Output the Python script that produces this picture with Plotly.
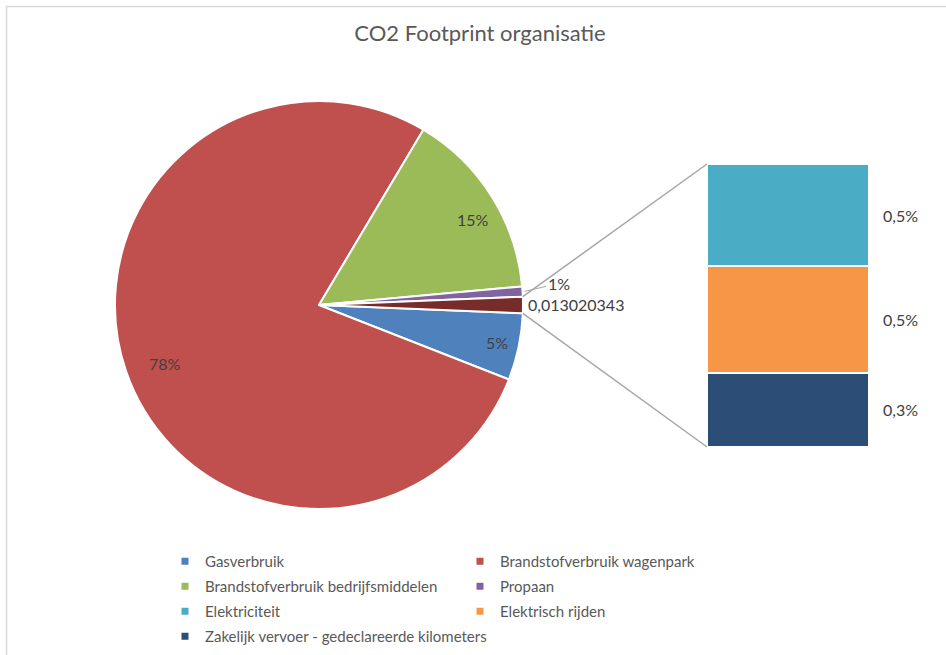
import math
import plotly.graph_objects as go

# ---------------- data ----------------
pie_labels = ["Gasverbruik", "Brandstofverbruik wagenpark",
              "Brandstofverbruik bedrijfsmiddelen", "Propaan", "Overig"]
pie_values = [0.053, 0.776, 0.150, 0.008, 0.013020343]
pie_colors = ["#4F81BD", "#C0504D", "#9BBB59", "#8064A2", "#772C2A"]

bar_labels = ["Elektriciteit", "Elektrisch rijden",
              "Zakelijk vervoer - gedeclareerde kilometers"]
bar_values = [0.0047, 0.0049, 0.00342]
bar_colors = ["#4BACC6", "#F79646", "#2C4D75"]

legend_left = ["Gasverbruik", "Brandstofverbruik bedrijfsmiddelen", "Elektriciteit",
               "Zakelijk vervoer - gedeclareerde kilometers"]
legend_right = ["Brandstofverbruik wagenpark", "Propaan", "Elektrisch rijden"]

title_text = "CO2 Footprint organisatie"

# ---------------- layout constants (pixels) ----------------
W, H = 946, 655
CX, CY, R = 319, 305, 204
BX0, BX1, BY0, BY1 = 707, 869, 164, 447
FONT = "Lato, 'Open Sans', sans-serif"
GRAY = "#595959"
LBL = "#404040"


def px(x):
    return x / W


def py(y):
    return 1 - y / H


def nl(v):
    return str(v).replace(".", ",")


total = sum(pie_values)
overig_deg = 360 * pie_values[-1] / total
start_math = -overig_deg / 2  # gas slice starts just below 3 o'clock, clockwise

# slice angles (math degrees, clockwise)
mids, starts, ends = [], [], []
a = start_math
for v in pie_values:
    span = 360 * v / total
    starts.append(a)
    ends.append(a - span)
    mids.append(a - span / 2)
    a -= span


def pt(angle, rad):
    t = math.radians(angle)
    return CX + rad * math.cos(t), CY - rad * math.sin(t)


fig = go.Figure()

fig.add_trace(go.Pie(
    labels=pie_labels, values=pie_values, sort=False,
    direction="clockwise", rotation=90 + overig_deg / 2,
    marker=dict(colors=pie_colors, line=dict(color="white", width=2)),
    textinfo="none", hoverinfo="label+percent", showlegend=False,
    domain=dict(x=[px(CX - R), px(CX + R)], y=[py(CY + R), py(CY - R)]),
))

# stacked bar (bottom first)
cum = 0
bar_mids = []
stack = list(zip(bar_labels, bar_values, bar_colors))[::-1]
for lab, v, c in stack:
    fig.add_trace(go.Bar(
        x=[0], y=[v], width=[1], name=lab, marker=dict(color=c, line=dict(color="white", width=2)),
        showlegend=False, xaxis="x", yaxis="y", hoverinfo="name+y",
    ))
    bar_mids.append((lab, cum + v / 2, v))
    cum += v

# legend entries
color_of = dict(zip(pie_labels + bar_labels, pie_colors + bar_colors))
for i, name in enumerate(legend_left):
    fig.add_trace(go.Scatter(x=[None], y=[None], mode="markers", name=name,
                             marker=dict(symbol="square", size=7, color=color_of[name]),
                             legend="legend", legendgroup="l%d" % i, showlegend=True))
for i, name in enumerate(legend_right):
    fig.add_trace(go.Scatter(x=[None], y=[None], mode="markers", name=name,
                             marker=dict(symbol="square", size=7, color=color_of[name]),
                             legend="legend2", legendgroup="r%d" % i, showlegend=True))

annotations = []
# inside labels for the three big slices
for i in range(3):
    x, y = pt(mids[i], R * 0.89)
    annotations.append(dict(x=px(x), y=py(y), xref="paper", yref="paper",
                            text="%d%%" % round(pie_values[i] / total * 100),
                            showarrow=False, font=dict(family=FONT, size=16, color=LBL)))
# propaan with leader line
ex, ey = pt(mids[3], R + 2)
annotations.append(dict(x=px(ex), y=py(ey), xref="paper", yref="paper",
                        text="%d%%" % round(pie_values[3] / total * 100),
                        showarrow=True, arrowhead=0, arrowwidth=1, arrowcolor="#A6A6A6",
                        ax=34, ay=-8, font=dict(family=FONT, size=16, color=LBL)))
# overig value label
ox, oy = pt(mids[4], R + 3)
annotations.append(dict(x=px(ox), y=py(oy), xref="paper", yref="paper", xanchor="left",
                        text=nl(pie_values[4]), showarrow=False,
                        font=dict(family=FONT, size=16, color=LBL)))
# bar labels
for lab, m, v in bar_mids:
    annotations.append(dict(x=0.5, y=m, xref="x", yref="y", xanchor="left", xshift=12,
                            text=nl(round(v / total * 100, 1)) + "%", showarrow=False,
                            font=dict(family=FONT, size=16, color=LBL)))

shapes = []
# connector lines from overig slice edges to bar corners
tx, ty = pt(starts[4], R)
bx, by = pt(ends[4], R)
shapes.append(dict(type="line", xref="paper", yref="paper", x0=px(tx), y0=py(ty),
                   x1=px(BX0), y1=py(BY0), line=dict(color="#A6A6A6", width=1.5)))
shapes.append(dict(type="line", xref="paper", yref="paper", x0=px(bx), y0=py(by),
                   x1=px(BX0), y1=py(BY1), line=dict(color="#A6A6A6", width=1.5)))
# chart border (cropped at right/bottom)
shapes.append(dict(type="rect", xref="paper", yref="paper", x0=px(6.5), y0=-0.1,
                   x1=1.1, y1=py(6.5), line=dict(color="#D9D9D9", width=1.5), layer="below"))

legend_style = dict(font=dict(family=FONT, size=15, color=GRAY), bgcolor="rgba(0,0,0,0)",
                    xanchor="left", yanchor="top", tracegroupgap=2.5, orientation="v",
                    itemclick=False, itemdoubleclick=False)

fig.update_layout(
    width=W, height=H, margin=dict(l=0, r=0, t=0, b=0, autoexpand=False),
    paper_bgcolor="white", plot_bgcolor="white",
    title=dict(text=title_text, x=px(480), y=py(33), xanchor="center", yanchor="middle",
               font=dict(family=FONT, size=22, color=GRAY)),
    xaxis=dict(domain=[px(BX0), px(BX1)], range=[-0.5, 0.5], visible=False, fixedrange=True),
    yaxis=dict(domain=[py(BY1), py(BY0)], range=[0, sum(bar_values)], visible=False, fixedrange=True),
    barmode="stack", bargap=0,
    legend=dict(x=px(205 - 40), y=py(545), **legend_style),
    legend2=dict(x=px(500 - 40), y=py(545), **legend_style),
    annotations=annotations, shapes=shapes,
    showlegend=True,
)

fig.write_html("out.html")
